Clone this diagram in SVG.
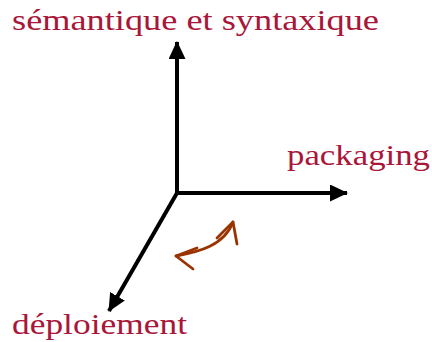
<svg xmlns="http://www.w3.org/2000/svg" width="432" height="342" viewBox="0 0 432 342">
<style>
.lbl{font-family:"Liberation Serif","Times New Roman",serif;font-size:30px;fill:#a8173a}
.ax{stroke:#000;stroke-width:4;fill:none}
.rot{stroke:#993300;stroke-width:2.8;fill:none;stroke-linecap:round;stroke-linejoin:round}
</style>
<defs>
<marker id="ah" viewBox="0 0 18 17" refX="17" refY="8.5" markerWidth="18" markerHeight="17" markerUnits="userSpaceOnUse" orient="auto">
<path d="M0,0 L18,8.5 L0,17 z" fill="#000"/>
</marker>
</defs>
<rect width="432" height="342" fill="#fff"/>
<g id="connectors">
<line class="ax" x1="177" y1="195" x2="177" y2="42" marker-end="url(#ah)"/>
<line class="ax" x1="175" y1="193" x2="347" y2="193" marker-end="url(#ah)"/>
<line class="ax" x1="177" y1="193" x2="109" y2="311" marker-end="url(#ah)"/>
<g id="rotation">
<path class="rot" d="M176,256 C198,252 224,246 233,222"/>
<path class="rot" d="M197,248 L176,256 L193,269"/>
<path class="rot" d="M217,238 L233,222 L237,244"/>
</g>
</g>
<g id="semantique"><text class="lbl" x="12" y="30" textLength="367" lengthAdjust="spacingAndGlyphs">sémantique et syntaxique</text></g>
<g id="packaging"><text class="lbl" x="287" y="165" textLength="143" lengthAdjust="spacingAndGlyphs">packaging</text></g>
<g id="deploiement"><text class="lbl" x="12" y="334" textLength="175" lengthAdjust="spacingAndGlyphs">déploiement</text></g>
</svg>
